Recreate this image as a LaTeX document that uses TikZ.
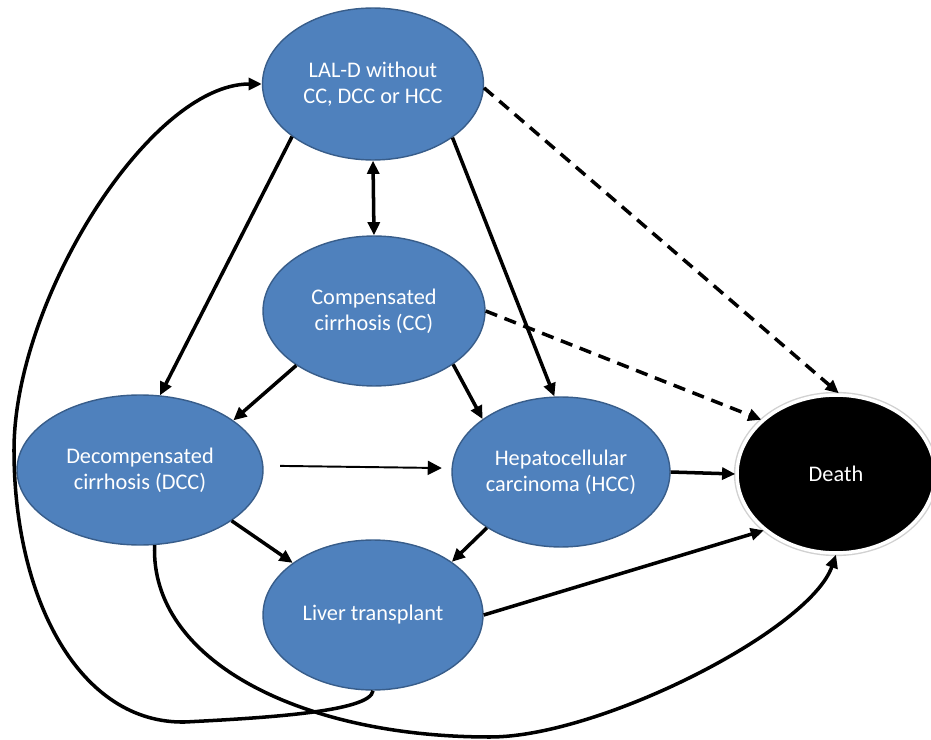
\documentclass[tikz,border=0pt]{standalone}
\usepackage{fontspec}
\setmainfont{Carlito}
\usetikzlibrary{shapes,arrows.meta}
\definecolor{stateblue}{HTML}{4F81BD}
\definecolor{stateedge}{HTML}{385D8A}
\tikzset{tri/.tip={Triangle[length=7.5pt,width=6.8pt]}}

\begin{document}
\begin{tikzpicture}[x=0.02cm,y=-0.02cm,
  state/.style={ellipse,fill=stateblue,draw=stateedge,line width=0.8pt,text=white,align=center,inner sep=0pt,minimum height=3cm,font=\fontsize{12.7}{15}\selectfont},
  absorb/.style={ellipse,fill=black,draw=white,line width=2pt,preaction={draw=black!18,line width=3.6pt},text=white,inner sep=0pt,font=\fontsize{12.7}{15}\selectfont},
  trans/.style={line width=2pt,-tri},
  risk/.style={trans,dash pattern=on 7pt off 4.5pt},
  progress/.style={line width=1.1pt,-{Triangle[length=8pt,width=8pt]}}]
\useasboundingbox (0,0) rectangle (931,740);
\node(lal) [state, minimum width=4.42cm, minimum height=3.04cm] at (373,84) {LAL-D without\\CC, DCC or HCC};
\node(cc) [state, minimum width=4.44cm] at (374,311) {Compensated\\cirrhosis (CC)};
\node(dcc) [state, minimum width=4.92cm] at (140,470) {Decompensated\\cirrhosis (DCC)};
\node(hcc) [state, minimum width=4.36cm] at (561,472) {Hepatocellular\\carcinoma (HCC)};
\node(lt) [state, minimum width=4.4cm] at (373,615) {Liver transplant};
\node(death) [absorb, minimum width=3.96cm, minimum height=3.16cm] at (836,474) {Death};
\draw[trans] (lal.213) -- (dcc.75);
\draw[trans,tri-tri] (lal.south) -- (cc.north);
\draw[trans] (lal.326) -- (hcc.95);
\draw[risk] (lal.358) -- (death.88);
\draw[risk] (cc.east) -- (death.144);
\draw[trans] (cc.215) -- (dcc.28);
\draw[trans] (cc.326) -- (hcc.146);
\draw[progress, shorten <=9.5pt, shorten >=5.5pt] (dcc.2) -- (hcc.178);
\draw[trans] (hcc.east) -- (death.west);
\draw[trans] (dcc.331) -- (lt.147);
\draw[trans] (hcc.217) -- (lt.34);
\draw[trans] (lt.east) -- (death.218);
\draw[trans] (lt.south) .. controls (371,712) and (262,718) .. (185,722) .. controls (80,724) and (14,600) .. (14,450) .. controls (14,300) and (150,84) .. (lal.west);
\draw[trans] (dcc.281) .. controls (150,660) and (300,737) .. (490,737) .. controls (600,737) and (810,630) .. (death.south);
\end{tikzpicture}
\end{document}
